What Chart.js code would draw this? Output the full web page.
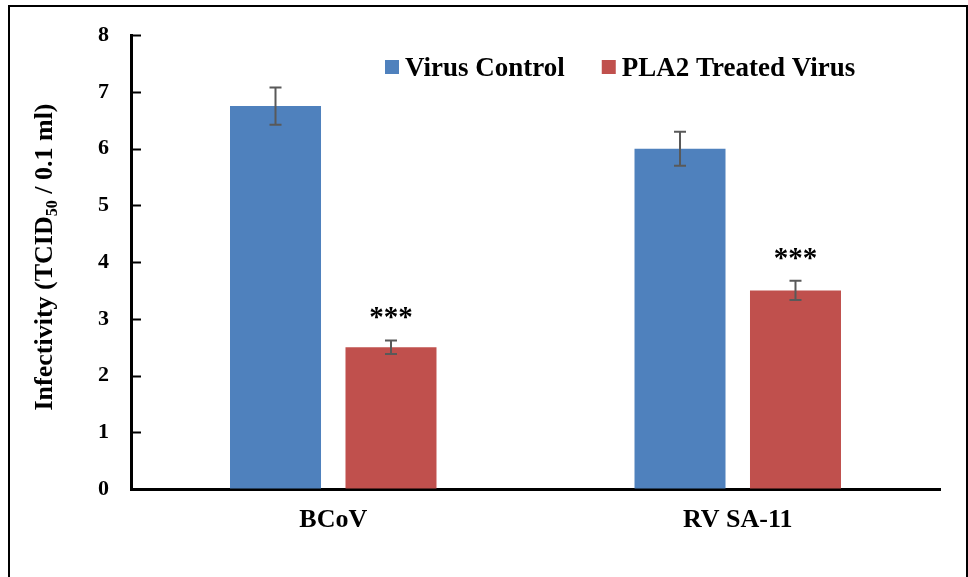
<!DOCTYPE html>
<html>
<head>
<meta charset="utf-8">
<script src="https://cdn.jsdelivr.net/npm/chart.js@4.4.0/dist/chart.umd.min.js"></script>
<style>
  html, body { margin: 0; padding: 0; background: #fff; overflow: hidden; }
  #frame { position: absolute; left: 8px; top: 5px; width: 960px; height: 620px; box-sizing: border-box; border: 2px solid #000; pointer-events: none; }
  #wrap { position: absolute; left: 0; top: 0; width: 968px; height: 577px; }
</style>
</head>
<body>
<div id="wrap"><canvas id="infectChart" width="968" height="577"></canvas></div>
<div id="frame"></div>
<script>
// values
const categories = ['BCoV', 'RV SA-11'];
const controlValues = [6.75, 6.0];
const controlErrors = [0.33, 0.30];
const treatedValues = [2.5, 3.5];
const treatedErrors = [0.12, 0.17];
const treatedMarks = ['***', '***'];
const yTicks = [0, 1, 2, 3, 4, 5, 6, 7, 8];

const serif = '"Liberation Serif", "Times New Roman", serif';

const chartData = {
    labels: categories,
    datasets: [
        { label: 'Virus Control', data: controlValues, errors: controlErrors, backgroundColor: '#4F81BD' },
        { label: 'PLA2 Treated Virus', data: treatedValues, errors: treatedErrors, marks: treatedMarks, backgroundColor: '#C0504D' }
    ]
};

// error bars, inner ticks, significance stars
const extrasPlugin = {
    id: 'extras',
    afterDatasetsDraw(chart) {
        const ctx = chart.ctx;
        const yScale = chart.scales.y;
        const area = chart.chartArea;

        // small ticks pointing into the plot
        ctx.save();
        ctx.strokeStyle = '#000';
        ctx.lineWidth = 2;
        yTicks.forEach(t => {
            const y = Math.round(yScale.getPixelForValue(t)) + 0.5;
            ctx.beginPath();
            ctx.moveTo(area.left, y);
            ctx.lineTo(area.left + 10, y);
            ctx.stroke();
        });
        ctx.restore();

        chart.data.datasets.forEach((ds, i) => {
            const meta = chart.getDatasetMeta(i);
            meta.data.forEach((bar, j) => {
                const v = ds.data[j];
                const e = ds.errors[j];
                const yTop = yScale.getPixelForValue(v + e);
                const yBot = yScale.getPixelForValue(v - e);
                ctx.save();
                ctx.strokeStyle = '#595959';
                ctx.lineWidth = 2;
                ctx.beginPath();
                ctx.moveTo(bar.x, yTop);
                ctx.lineTo(bar.x, yBot);
                ctx.moveTo(bar.x - 6, yTop);
                ctx.lineTo(bar.x + 6, yTop);
                ctx.moveTo(bar.x - 6, yBot);
                ctx.lineTo(bar.x + 6, yBot);
                ctx.stroke();
                if (ds.marks && ds.marks[j]) {
                    ctx.fillStyle = '#000';
                    ctx.font = 'bold 29px ' + serif;
                    ctx.textAlign = 'center';
                    ctx.textBaseline = 'alphabetic';
                    ctx.fillText(ds.marks[j], bar.x, yTop - 14);
                }
                ctx.restore();
            });
        });
    },
    afterDraw(chart) {
        const ctx = chart.ctx;

        // legend inside the plot
        ctx.save();
        ctx.font = 'bold 27px ' + serif;
        ctx.textBaseline = 'alphabetic';
        ctx.textAlign = 'left';
        let x = 385;
        chart.data.datasets.forEach(ds => {
            ctx.fillStyle = ds.backgroundColor;
            ctx.fillRect(x, 60, 14, 14);
            ctx.fillStyle = '#000';
            ctx.fillText(ds.label, x + 20, 76);
            x += 20 + ctx.measureText(ds.label).width + 37;
        });
        ctx.restore();

        // y axis title with subscript
        const parts = [
            { t: 'Infectivity (TCID', size: 26, dy: 0 },
            { t: '50', size: 16, dy: 5 },
            { t: ' / 0.1 ml)', size: 26, dy: 0 }
        ];
        ctx.save();
        ctx.fillStyle = '#000';
        ctx.textBaseline = 'alphabetic';
        ctx.textAlign = 'left';
        let total = 0;
        parts.forEach(p => {
            ctx.font = 'bold ' + p.size + 'px ' + serif;
            p.w = ctx.measureText(p.t).width;
            total += p.w;
        });
        ctx.translate(52, 257);
        ctx.rotate(-Math.PI / 2);
        let px = -total / 2;
        parts.forEach(p => {
            ctx.font = 'bold ' + p.size + 'px ' + serif;
            ctx.fillText(p.t, px, p.dy);
            px += p.w;
        });
        ctx.restore();
    }
};

new Chart(document.getElementById('infectChart').getContext('2d'), {
    type: 'bar',
    data: chartData,
    options: {
        responsive: false,
        animation: false,
        devicePixelRatio: 1,
        layout: { padding: { left: 0, top: 35, right: 28, bottom: 0 } },
        datasets: {
            bar: { barPercentage: 0.788, categoryPercentage: 0.571 }
        },
        plugins: {
            legend: { display: false },
            tooltip: { enabled: false }
        },
        scales: {
            x: {
                grid: { drawOnChartArea: false, drawTicks: false },
                border: { color: '#000', width: 3 },
                ticks: {
                    color: '#000',
                    padding: 16,
                    font: { family: serif, size: 26, weight: 'bold' }
                },
                afterFit: scale => { scale.height = 88; }
            },
            y: {
                min: 0,
                max: 8,
                afterBuildTicks: scale => { scale.ticks = yTicks.map(v => ({ value: v })); },
                grid: { drawOnChartArea: false, drawTicks: false },
                border: { color: '#000', width: 3 },
                ticks: {
                    color: '#000',
                    padding: 22,
                    font: { family: serif, size: 22, weight: 'bold' }
                },
                afterFit: scale => { scale.width = 131; }
            }
        }
    },
    plugins: [extrasPlugin]
});
</script>
</body>
</html>
